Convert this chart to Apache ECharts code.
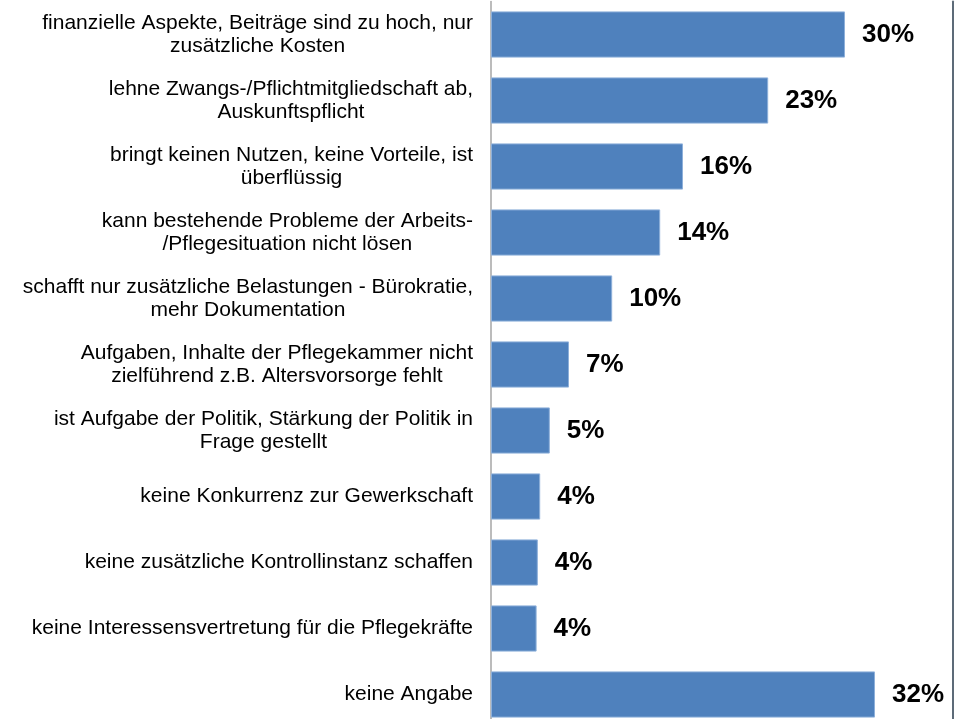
<!DOCTYPE html>
<html>
<head>
<meta charset="utf-8">
<script src="https://cdn.jsdelivr.net/npm/echarts@6/dist/echarts.min.js"></script>
<style>
  html, body {margin: 0; padding: 0; background: #fff;}
  #chart {width: 961px; height: 719px;}
</style>
</head>
<body>
<div id="chart"></div>
<script>
const categories = [
  'finanzielle Aspekte, Beiträge sind zu hoch, nur\nzusätzliche Kosten',
  'lehne Zwangs-/Pflichtmitgliedschaft ab,\nAuskunftspflicht',
  'bringt keinen Nutzen, keine Vorteile, ist\nüberflüssig',
  'kann bestehende Probleme der Arbeits-\n/Pflegesituation nicht lösen',
  'schafft nur zusätzliche Belastungen - Bürokratie,\nmehr Dokumentation',
  'Aufgaben, Inhalte der Pflegekammer nicht\nzielführend z.B. Altersvorsorge fehlt',
  'ist Aufgabe der Politik, Stärkung der Politik in\nFrage gestellt',
  'keine Konkurrenz zur Gewerkschaft',
  'keine zusätzliche Kontrollinstanz schaffen',
  'keine Interessensvertretung für die Pflegekräfte',
  'keine Angabe'
]
const shares = [29.5, 23.1, 16.0, 14.1, 10.1, 6.5, 4.9, 4.1, 3.9, 3.8, 32.0]

const chart = echarts.init(document.getElementById('chart'))

// each label: lines centred inside a right-aligned block
const centerLines = text => text.split('\n').map(l => `{c|${l}}`).join('\n')

chart.setOption({
  animation: false,
  grid: {left: 491, right: 8, top: 1.5, height: 726, containLabel: false, outerBoundsMode: 'none'},
  xAxis: {
    type: 'value', min: 0, max: 38.5,
    show: false
  },
  yAxis: [{
    type: 'category',
    data: categories,
    inverse: true,
    axisLine: {show: true, lineStyle: {color: '#a6a6a6', width: 1.5}},
    axisTick: {show: false},
    axisLabel: {
      margin: 18,
      color: '#000',
      fontFamily: 'Liberation Sans, Arial, sans-serif',
      fontSize: 21,
      lineHeight: 23,
      formatter: centerLines,
      rich: {c: {align: 'center', fontSize: 21, lineHeight: 23, color: '#000',
        fontFamily: 'Liberation Sans, Arial, sans-serif'}}
    }
  }, {
    type: 'category',
    data: categories,
    inverse: true,
    position: 'right',
    axisLine: {show: true, lineStyle: {color: '#5d6b78', width: 2}},
    axisTick: {show: false},
    axisLabel: {show: false}
  }],
  series: [{
    type: 'bar',
    data: shares,
    barCategoryGap: '30%',
    itemStyle: {color: '#4f81bd', borderColor: '#8eb0da', borderWidth: 1},
    label: {
      show: true,
      position: 'right',
      distance: 17,
      color: '#000',
      fontFamily: 'Liberation Sans, Arial, sans-serif',
      fontWeight: 'bold',
      fontSize: 26,
      formatter: p => Math.round(p.value) + '%'
    }
  }]
})
</script>
</body>
</html>
